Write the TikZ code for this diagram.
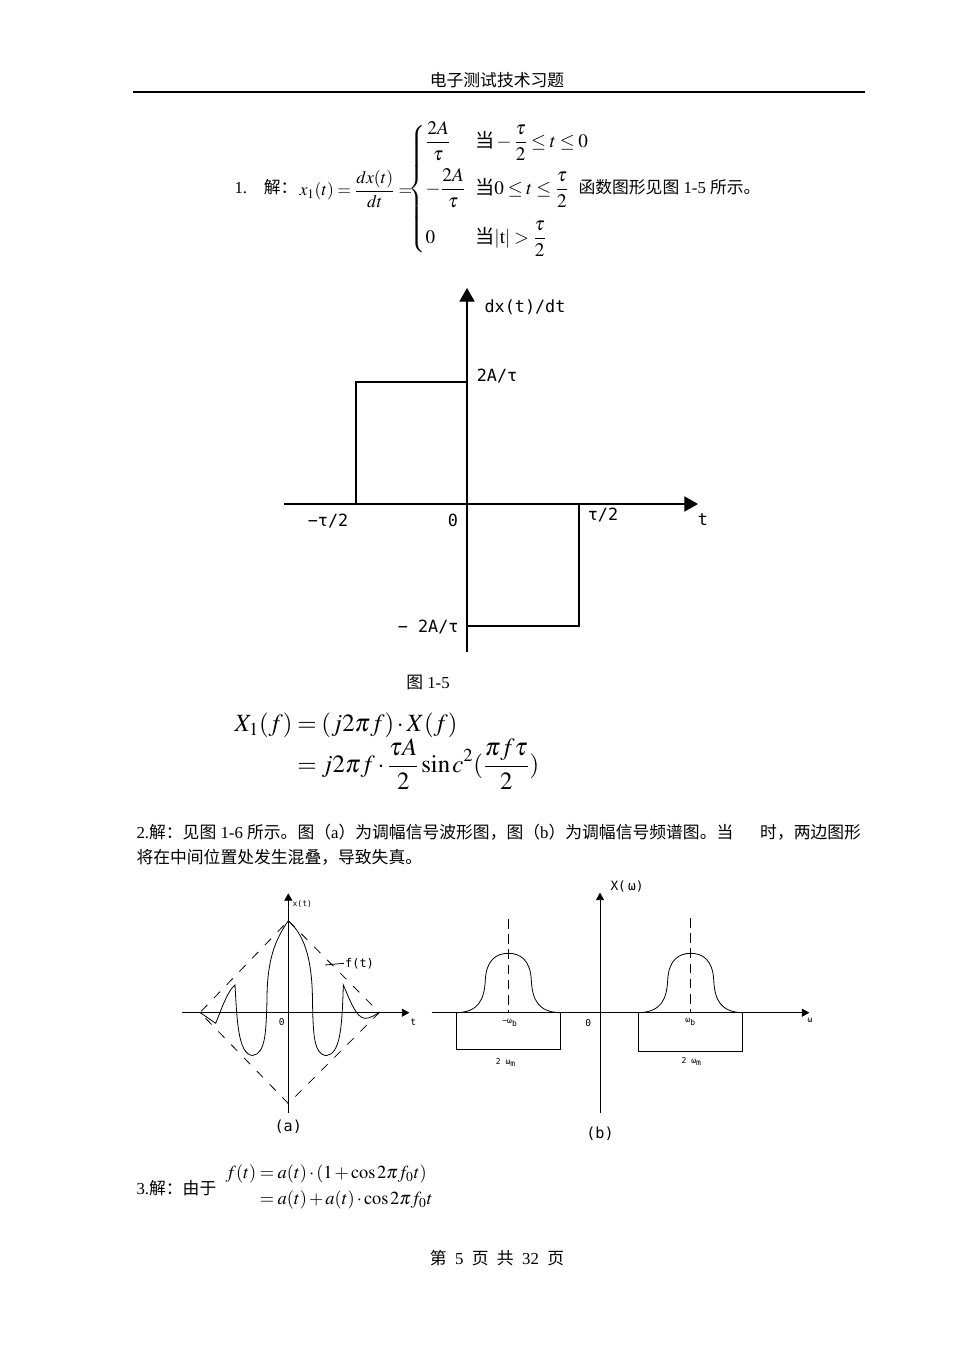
\documentclass[tikz,border=0pt]{standalone}
\usepackage{amsmath}
\usepackage{amssymb}
\usepackage{mathptmx}
\usepackage{fontspec}
\setmainfont{Liberation Serif}
\newfontfamily\cjk{Noto Sans CJK SC}
\newfontfamily\cad{DejaVu Sans Mono}
\newcommand{\zh}[1]{{\cjk #1}}
\newcommand{\tightmath}{\thickmuskip=3.5mu\medmuskip=2mu\thinmuskip=1.5mu}
\usetikzlibrary{arrows.meta}

\begin{document}
\begin{tikzpicture}[x=0.625pt,y=0.625pt,yscale=-1,xscale=1,
  txt/.style={inner sep=0.75pt,font=\fontsize{10.5}{12}\selectfont},
  cadbig/.style={inner sep=0.75pt,font=\cad\fontsize{10.5}{12}\selectfont},
  cadmid/.style={inner sep=0.5pt,font=\cad\fontsize{7.5}{9}\selectfont},
  cadtiny/.style={inner sep=0.5pt,font=\cad\fontsize{5}{6}\selectfont},
  bigarrow/.style={-{Triangle[length=8.5pt,width=9.5pt]}},
  smallarrow/.style={-{Triangle[length=4.6pt,width=5pt]}},
  envelope/.style={dash pattern=on 5.5pt off 6pt},
  centreline/.style={dash pattern=on 6pt off 3.5pt}]
\useasboundingbox (0,0) rectangle (952,1347);

% Header
\draw (497,80) node [txt] (hdr) {\zh{电子测试技术习题}};
\draw [line width=1.2] (133,92) -- (865,92);

% Solution 1
\draw (233,187) node [anchor=west][txt] (sola) {1.\hspace{1em}\zh{解：}};
\draw (298,189) node [anchor=west][inner sep=0.75pt,font=\fontsize{11}{13}\selectfont] (eqa) {$\tightmath x_1(t)=\dfrac{dx(t)}{dt}=$};
\draw (407,189) node [anchor=west][inner sep=0.75pt,font=\fontsize{12}{14}\selectfont] (cases) {$\tightmath\left\{\begin{array}{@{}l@{\hspace{0.5em}}l@{}}\dfrac{2A}{\tau} & \text{\cjk 当}-\dfrac{\tau}{2}\le t\le 0\\[9pt] -\dfrac{2A}{\tau} & \text{\cjk 当}0\le t\le\dfrac{\tau}{2}\\[12pt] 0 & \text{\cjk 当}|\mathrm{t}|>\dfrac{\tau}{2}\end{array}\right.$};
\draw (577,187) node [anchor=west][txt] (solatext) {\zh{函数图形见图} 1-5 \zh{所示。}};

%Fig 1-5 axes
\draw [bigarrow,line width=0.7] (284,504) -- (698,504);
\draw [bigarrow,line width=0.7] (467,652) -- (467,288);
%Fig 1-5 pulses
\draw [line width=0.7] (356,504) -- (356,382) -- (467,382);
\draw [line width=0.7] (467,626) -- (579,626) -- (579,504);

% Text Node
\draw (525,307) node [cadbig] (dxdt) {dx(t)/dt};
\draw (497,376) node [cadbig] (pos) {2A/τ};
\draw (460,627) node [anchor=east][cadbig] (neg) {− 2A/τ};
\draw (328,521) node [cadbig] (lefthalf) {−τ/2};
\draw (453,520) node [cadbig] (origin) {0};
\draw (603,515) node [cadbig] (righthalf) {τ/2};
\draw (703,520) node [cadbig] (taxis) {t};
\draw (428,682) node [txt] (capone) {\zh{图} 1-5};

% Spectrum formula
\draw (233,750) node [anchor=west][inner sep=0.75pt,font=\fontsize{15.5}{18.5}\selectfont] (eqb) {$\tightmath\begin{aligned}X_1(f)&=(j2\pi f)\cdot X(f)\\[-5pt]&=j2\pi f\cdot\dfrac{\tau A}{2}\sin c^2(\dfrac{\pi f\tau}{2})\end{aligned}$};

% Solution 2
\draw (135,832) node [anchor=west][txt] (solb) {2.\zh{解：见图} 1-6 \zh{所示。图（}a\zh{）为调幅信号波形图，图（}b\zh{）为调幅信号频谱图。当}\hspace{1.6em}\zh{时，两边图形}};
\draw (135,857) node [anchor=west][txt] (solbb) {\zh{将在中间位置处发生混叠，导致失真。}};

%Fig (a) axes
\draw [smallarrow,line width=0.5] (182,1012.7) -- (409.3,1012.7);
\draw [smallarrow,line width=0.5] (288.3,1113) -- (288.3,893.3);
%Fig (a) envelope
\draw [envelope,line width=0.5] (288.3,920.7) -- (379.3,1012.5) -- (288.3,1103.5) -- (200,1012.5) -- cycle;
%Fig (a) modulated wave
\draw [line width=0.5] (200,1012.5) -- (215.7,1023.3) .. controls (221,1010) and (228,990) .. (235,985) .. controls (237,1020) and (238,1054) .. (252.5,1055.5) .. controls (266,1054) and (266,1030) .. (267,1000) .. controls (267,960) and (275,940) .. (288.3,920.7) .. controls (303,934) and (312,955) .. (312.5,1000) .. controls (313,1035) and (314,1054) .. (326,1055.7) .. controls (340,1054) and (342,1030) .. (343.3,985) .. controls (350,1000) and (356,1018) .. (365,1018.3) .. controls (370,1018.5) and (375,1015) .. (379.3,1012.5) ;

% Text Node
\draw (302.3,904) node [cadtiny] (xt) {x(t)};
\draw (359.5,963.3) node [cadmid] (ft) {f(t)};
\coordinate (ftpt) at (325,965);
\draw [line width=0.5] (ftpt) -- (ft.west);
\draw (281.7,1021.7) node [cadtiny,font=\cad\fontsize{6}{7}\selectfont] (zeroa) {0};
\draw (413.3,1021.7) node [cadtiny,font=\cad\fontsize{6}{7}\selectfont] (ta) {t};
\draw (288.3,1127) node [cadbig,font=\cad\fontsize{9.5}{11}\selectfont] (capa) {(a)};

%Fig (b) axes
\draw [smallarrow,line width=0.5] (431.7,1012.7) -- (809.3,1012.7);
\draw [smallarrow,line width=0.5] (600,1113.3) -- (600,892.7);
%Fig (b) sidebands
\draw [line width=0.5] (456.7,1012.7) .. controls (478.3,1012) and (484.3,1000) .. (485.3,980) .. controls (486.3,960) and (496.3,953.3) .. (508.3,953.3) .. controls (520.3,953.3) and (530.3,960) .. (531.3,980) .. controls (532.3,1000) and (538.3,1012) .. (560,1012.7) ;
\draw [line width=0.5] (638.5,1012.7) .. controls (660.7,1012) and (666.7,1000) .. (667.7,980) .. controls (668.7,960) and (678.7,953.3) .. (690.7,953.3) .. controls (702.7,953.3) and (712.7,960) .. (713.7,980) .. controls (714.7,1000) and (720.7,1012) .. (742.5,1012.7) ;
\draw [centreline,line width=0.5] (508.3,919) -- (508.3,1012.7);
\draw [centreline,line width=0.5] (690.7,918) -- (690.7,1012.7);
%Fig (b) bandwidth boxes
\draw [line width=0.5] (456.7,1012.7) -- (456.7,1049.3) -- (560,1049.3) -- (560,1012.7);
\draw [line width=0.5] (638.5,1012.7) -- (638.5,1051.7) -- (742.5,1051.7) -- (742.5,1012.7);

% Text Node
\draw (627,886.7) node [cadbig,font=\cad\fontsize{8}{10}\selectfont] (xw) {X(\,ω)};
\draw (510,1022.7) node [cadtiny] (negwb) {−ω\textsubscript{b}};
\draw (588.3,1023.3) node [cadtiny,font=\cad\fontsize{6}{7}\selectfont] (zerob) {0};
\draw (506,1062.7) node [cadtiny] (bwleft) {2 ω\textsubscript{m}};
\draw (690.7,1021.7) node [cadtiny] (poswb) {ω\textsubscript{b}};
\draw (691.7,1061.7) node [cadtiny] (bwright) {2 ω\textsubscript{m}};
\draw (810,1020) node [cadtiny] (waxis) {ω};
\draw (600,1134) node [cadbig,font=\cad\fontsize{9.5}{11}\selectfont] (capb) {(b)};

% Solution 3
\draw (135,1188) node [anchor=west][txt] (solc) {3.\zh{解：由于}};
\draw (224,1187) node [anchor=west][inner sep=0.75pt,font=\fontsize{11.5}{14}\selectfont] (eqc) {$\tightmath\begin{aligned}f(t)&=a(t)\cdot(1+\cos 2\pi f_0t)\\[-0.5pt]&=a(t)+a(t)\cdot\cos 2\pi f_0t\end{aligned}$};

% Footer
\draw (497,1258) node [txt] (foot) {\zh{第}\hspace{0.5em}5\hspace{0.5em}\zh{页}\hspace{0.5em}\zh{共}\hspace{0.5em}32\hspace{0.5em}\zh{页}};

\end{tikzpicture}
\end{document}
